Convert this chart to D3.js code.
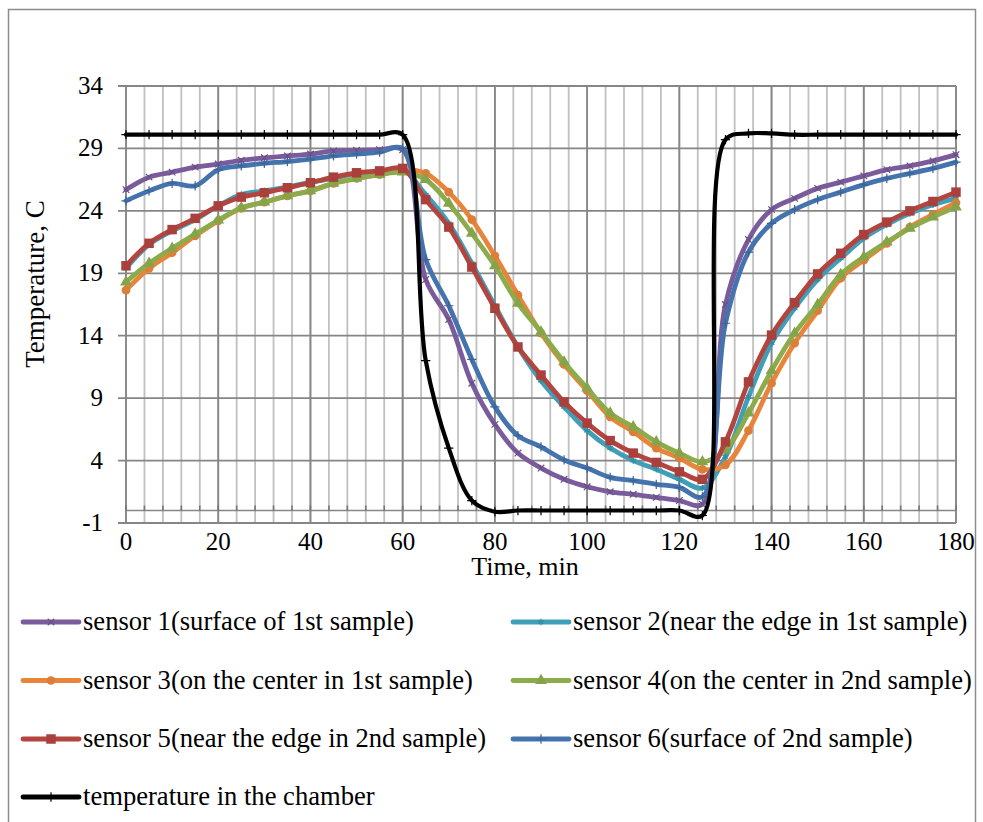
<!DOCTYPE html>
<html>
<head>
<meta charset="utf-8">
<script src="https://cdn.jsdelivr.net/npm/d3@7"></script>
<style>
  body { margin: 0; background: #fff; }
  text { font-family: "Liberation Serif", "Times New Roman", serif; fill: #000; }
</style>
</head>
<body>
<div id="chart"></div>
<script>
// time of each reading, min
var time = [0, 5, 10, 15, 20, 25, 30, 35, 40, 45, 50, 55, 60, 65, 70, 75, 80, 85, 90,
            95, 100, 105, 110, 115, 120, 125, 130, 135, 140, 145, 150, 155, 160, 165, 170, 175, 180];

var sensor1 = [25.7, 26.7, 27.1, 27.5, 27.75, 28.05, 28.25, 28.4, 28.55, 28.8, 28.85, 28.9, 28.9,
               18.5, 15.3, 10.2, 6.9, 4.6, 3.4, 2.5, 1.9, 1.5, 1.3, 1.05, 0.8, 0.5,
               16.5, 21.7, 24.1, 25.0, 25.8, 26.3, 26.8, 27.3, 27.6, 28.0, 28.5];
var sensor2 = [19.4, 21.3, 22.4, 23.3, 24.4, 25.3, 25.6, 25.9, 26.3, 26.6, 27.0, 27.1, 27.3,
               25.3, 23.0, 19.8, 16.4, 13.1, 10.4, 8.3, 6.4, 5.0, 4.0, 3.3, 2.5, 1.8,
               4.3, 9.1, 13.4, 16.2, 18.5, 20.2, 21.8, 22.9, 23.8, 24.5, 25.0];
var sensor3 = [17.65, 19.4, 20.65, 22.0, 23.2, 24.2, 24.7, 25.2, 25.6, 26.2, 26.6, 26.9, 27.3,
               27.0, 25.5, 23.3, 20.4, 17.25, 14.2, 11.7, 9.6, 7.5, 6.3, 5.0, 4.2, 3.3,
               3.65, 6.4, 10.2, 13.4, 16.0, 18.6, 20.05, 21.4, 22.7, 23.7, 24.65];
var sensor4 = [18.3, 19.8, 21.0, 22.15, 23.25, 24.25, 24.7, 25.2, 25.6, 26.2, 26.6, 26.9, 27.1,
               26.5, 24.6, 22.2, 19.6, 16.6, 14.3, 11.9, 9.8, 7.8, 6.7, 5.5, 4.6, 3.9,
               4.85, 7.8, 11.2, 14.2, 16.5, 18.9, 20.3, 21.5, 22.6, 23.5, 24.3];
var sensor5 = [19.6, 21.4, 22.5, 23.4, 24.4, 25.1, 25.45, 25.85, 26.25, 26.7, 27.05, 27.2, 27.4,
               24.9, 22.7, 19.5, 16.2, 13.1, 10.85, 8.7, 7.0, 5.6, 4.6, 3.85, 3.1, 2.5,
               5.5, 10.3, 14.05, 16.65, 18.95, 20.6, 22.1, 23.1, 24.0, 24.75, 25.5];
var sensor6 = [24.8, 25.6, 26.2, 26.0, 27.3, 27.6, 27.8, 27.95, 28.15, 28.4, 28.55, 28.7, 29.0,
               20.1, 16.4, 12.1, 8.3, 6.0, 5.1, 4.05, 3.4, 2.65, 2.4, 2.1, 1.85, 1.1,
               15.0, 20.7, 23.0, 24.1, 24.9, 25.5, 26.1, 26.6, 27.0, 27.4, 27.9];
var chamber = [30.1, 30.1, 30.1, 30.1, 30.1, 30.1, 30.1, 30.1, 30.1, 30.1, 30.1, 30.1, 30.1,
               12.0, 5.0, 0.8, -0.1, 0.0, 0.0, 0.0, 0.0, 0.0, 0.0, 0.0, 0.0, -0.4,
               29.7, 30.2, 30.2, 30.1, 30.1, 30.1, 30.1, 30.1, 30.1, 30.1, 30.1];

var names = ["sensor 1(surface of 1st sample)", "sensor 2(near the edge in 1st sample)",
             "sensor 3(on the center in 1st sample)", "sensor 4(on the center in 2nd sample)",
             "sensor 5(near the edge in 2nd sample)", "sensor 6(surface of 2nd sample)",
             "temperature in the chamber"];
var colors = ["#7a5c9c", "#3f9fb8", "#e8853b", "#8cac4c", "#b3443f", "#4573ae", "#000000"];
var markers = ["times", "asterisk", "circle", "triangle", "square", "plus", "plus"];

var yTicks = [-1, 4, 9, 14, 19, 24, 29, 34];
var xTicks = [0, 20, 40, 60, 80, 100, 120, 140, 160, 180];

var series = [sensor1, sensor2, sensor3, sensor4, sensor5, sensor6, chamber].map(function(vals, i) {
  return { name: names[i], color: colors[i], marker: markers[i],
           points: vals.map(function(v, j) { return [time[j], v]; }) };
});

var W = 983, H = 822;
var plot = { left: 126, right: 956, top: 86, bottom: 523 };

var svg = d3.select("#chart").append("svg")
    .attr("width", W)
    .attr("height", H);

// outer chart border
svg.append("rect")
    .attr("x", 8.5).attr("y", 9.5)
    .attr("width", 967).attr("height", 830)
    .attr("fill", "none")
    .attr("stroke", "#8c8c8c")
    .attr("stroke-width", 1.5);

var xScale = d3.scaleLinear().domain([0, 180]).range([plot.left, plot.right]);
var yScale = d3.scaleLinear().domain([-1, 34]).range([plot.bottom, plot.top]);

var g = svg.append("g");

// minor vertical grid every 4 min
g.append("g").selectAll("line")
  .data(d3.range(0, 181, 4))
  .enter().append("line")
    .attr("x1", function(d) { return xScale(d); })
    .attr("x2", function(d) { return xScale(d); })
    .attr("y1", plot.top).attr("y2", plot.bottom)
    .attr("stroke", "#c0c0c0")
    .attr("stroke-width", 1.8);

// major vertical grid
g.append("g").selectAll("line")
  .data(xTicks)
  .enter().append("line")
    .attr("x1", function(d) { return xScale(d); })
    .attr("x2", function(d) { return xScale(d); })
    .attr("y1", plot.top).attr("y2", plot.bottom)
    .attr("stroke", "#868686")
    .attr("stroke-width", 1.8);

// horizontal grid + outside ticks
g.append("g").selectAll("line")
  .data(yTicks)
  .enter().append("line")
    .attr("x1", plot.left - 8).attr("x2", plot.right)
    .attr("y1", function(d) { return yScale(d); })
    .attr("y2", function(d) { return yScale(d); })
    .attr("stroke", "#868686")
    .attr("stroke-width", 1.8);

// horizontal axis crosses at 0
g.append("line")
    .attr("x1", plot.left).attr("x2", plot.right)
    .attr("y1", yScale(0)).attr("y2", yScale(0))
    .attr("stroke", "#868686")
    .attr("stroke-width", 1.6);
g.append("g").selectAll("line")
  .data(d3.range(0, 181, 4))
  .enter().append("line")
    .attr("x1", function(d) { return xScale(d); })
    .attr("x2", function(d) { return xScale(d); })
    .attr("y1", yScale(0) - 5).attr("y2", yScale(0))
    .attr("stroke", "#767676")
    .attr("stroke-width", 1.6);

// tick labels
g.append("g").selectAll("text")
  .data(yTicks)
  .enter().append("text")
    .attr("x", 103)
    .attr("y", function(d) { return yScale(d) + 8; })
    .attr("text-anchor", "end")
    .style("font-size", "25px")
    .text(function(d) { return d; });

g.append("g").selectAll("text")
  .data(xTicks)
  .enter().append("text")
    .attr("x", function(d) { return xScale(d); })
    .attr("y", 550)
    .attr("text-anchor", "middle")
    .style("font-size", "25px")
    .text(function(d) { return d; });

g.append("text")
    .attr("x", 525).attr("y", 575)
    .attr("text-anchor", "middle")
    .style("font-size", "26px")
    .text("Time, min");

g.append("text")
    .attr("transform", "translate(44,284)rotate(-90)")
    .attr("text-anchor", "middle")
    .style("font-size", "27px")
    .text("Temperature, C");

// lines
var line = d3.line()
    .curve(d3.curveCatmullRom.alpha(0.5))
    .x(function(d) { return xScale(d[0]); })
    .y(function(d) { return yScale(d[1]); });

var symbolTypes = {
  times: d3.symbolTimes, asterisk: d3.symbolAsterisk, plus: d3.symbolPlus,
  circle: d3.symbolCircle, triangle: d3.symbolTriangle, square: d3.symbolSquare
};
var strokeMarkers = ["times", "asterisk", "plus"];

function markerPath(type) {
  var size = type == "square" ? 90 : type == "circle" ? 60 : type == "triangle" ? 60 : 30;
  return d3.symbol().type(symbolTypes[type]).size(size)();
}

function drawMarker(sel, s) {
  var isStroke = strokeMarkers.indexOf(s.marker) >= 0;
  sel.attr("d", markerPath(s.marker))
    .attr("fill", isStroke ? "none" : d3.color(s.color).darker(0.15))
    .attr("stroke", isStroke ? d3.color(s.color).darker(0.4) : "none")
    .attr("stroke-width", 1.2);
}

var lines = g.append("g");
series.forEach(function(s) {
  var sg = lines.append("g");
  sg.append("path")
      .datum(s.points)
      .attr("fill", "none")
      .attr("stroke", s.color)
      .attr("stroke-width", s.color == "#000000" ? 4.2 : 4.8)
      .attr("stroke-linejoin", "round")
      .attr("stroke-linecap", "round")
      .attr("d", line);
  sg.selectAll(".m")
    .data(s.points)
    .enter().append("path")
      .attr("class", "m")
      .attr("transform", function(d) { return "translate(" + xScale(d[0]) + "," + yScale(d[1]) + ")"; })
      .each(function() { drawMarker(d3.select(this), s); });
});

// legend
var legendRows = [622, 680.5, 739, 797];
var legend = svg.append("g").selectAll("g")
  .data(series)
  .enter().append("g")
    .attr("transform", function(d, i) {
      var col = i % 2, row = Math.floor(i / 2);
      return "translate(" + (col == 0 ? 23 : 513) + "," + legendRows[row] + ")";
    });

legend.append("line")
    .attr("x1", 0).attr("x2", 56)
    .attr("stroke", function(d) { return d.color; })
    .attr("stroke-width", 4.8)
    .attr("stroke-linecap", "round");

legend.append("path")
    .attr("transform", "translate(28,0)")
    .each(function(d) { drawMarker(d3.select(this), d); });

legend.append("text")
    .attr("x", 60)
    .attr("y", 8)
    .style("font-size", "26.6px")
    .text(function(d) { return d.name; });
</script>
</body>
</html>
